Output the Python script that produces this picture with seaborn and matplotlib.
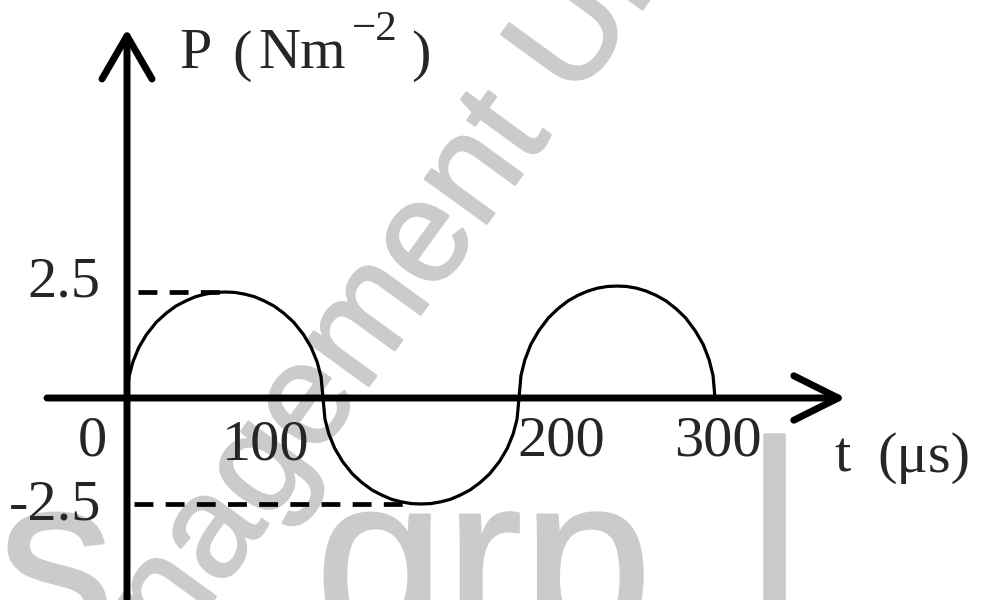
import matplotlib
matplotlib.use("Agg")
import matplotlib.pyplot as plt
import matplotlib.patheffects as pe
import seaborn as sns

# ---- data -------------------------------------------------------------
# sample times inside one half-cycle (microseconds from its start)
half_t = [0, 1, 3, 6, 10, 15, 20, 25, 30, 35, 40, 45, 50,
          55, 60, 65, 70, 75, 80, 85, 90, 94, 97, 99, 100]
half_starts = [0, 100, 200]
# pressure readings along each half-cycle (N m^-2)
p_first = [0, 0.50, 0.85, 1.19, 1.50, 1.79, 2.00, 2.17, 2.29, 2.39, 2.45, 2.49, 2.50,
           2.49, 2.45, 2.39, 2.29, 2.17, 2.00, 1.79, 1.50, 1.19, 0.85, 0.50, 0]
p_second = [0, -0.50, -0.85, -1.19, -1.50, -1.79, -2.00, -2.17, -2.29, -2.39, -2.45, -2.49, -2.50,
            -2.49, -2.45, -2.39, -2.29, -2.17, -2.00, -1.79, -1.50, -1.19, -0.85, -0.50, 0]
p_third = [0, 0.53, 0.90, 1.26, 1.58, 1.89, 2.11, 2.29, 2.42, 2.52, 2.59, 2.63, 2.64,
           2.63, 2.59, 2.52, 2.42, 2.29, 2.11, 1.89, 1.58, 1.26, 0.90, 0.53, 0]

amp_levels = [2.5, -2.5]
amp_labels = ["2.5", "-2.5"]
t_labels = ["0", "100", "200", "300"]

# ---- canvas geometry (pixels) ------------------------------------------
W, H = 1002, 600
X0, SX = 127, 1.96      # pixel column of t = 0, pixels per microsecond
Y0, SY = 398, 42.4      # pixel row of P = 0, pixels per N m^-2


def to_t(px):
    return (px - X0) / SX


def to_p(py):
    return (Y0 - py) / SY


def fx(px):
    return px / W


def fy(py):
    return 1 - py / H


# assemble the curve
t_vals, p_vals = [], []
for k, (start, arc) in enumerate(zip(half_starts, [p_first, p_second, p_third])):
    for j, (dt, p) in enumerate(zip(half_t, arc)):
        if k > 0 and j == 0:
            continue
        t_vals.append(start + dt)
        p_vals.append(p)

sns.set_theme(style="white")
plt.rcParams["font.family"] = ["Liberation Serif", "DejaVu Serif"]

fig = plt.figure(figsize=(W / 100, H / 100), dpi=100)
fig.patch.set_facecolor("white")
ax = fig.add_axes([0, 0, 1, 1])
ax.patch.set_visible(False)
ax.set_xlim(to_t(0), to_t(W))
ax.set_ylim(to_p(H), to_p(0))
ax.axis("off")

# faint watermark lettering, underneath everything else
wm_col = "#cbcbcb"
wm = dict(color=wm_col, family="Liberation Sans", zorder=-5,
          path_effects=[pe.withStroke(linewidth=1.8, foreground=wm_col)])
fig.text(fx(174), fy(654), "nagement Un", rotation=54.0, rotation_mode="anchor",
         ha="left", va="baseline", fontsize=104, **wm)
fig.text(fx(315), fy(638), "grp", ha="left", va="baseline", fontsize=168, **wm)
fig.text(fx(114), fy(638), "rs", ha="right", va="baseline", fontsize=168, **wm)
fig.text(fx(748), fy(603), "l", ha="left", va="baseline", fontsize=168, **wm)

# pressure curve
sns.lineplot(x=t_vals, y=p_vals, ax=ax, color="black", linewidth=2.3,
             sort=False, estimator=None, legend=False)

# dashed amplitude guides
guide_kw = dict(color="black", linewidth=3.4, dashes=(4.0, 2.6))
ax.plot([to_t(138), to_t(222)], [amp_levels[0]] * 2, **guide_kw)
ax.plot([to_t(134), to_t(404)], [amp_levels[1]] * 2, **guide_kw)

# axes with open arrow heads
arrow_kw = dict(color="black", lw=5, shrinkA=0, shrinkB=0, mutation_scale=20,
                capstyle="round", joinstyle="round")
ax.annotate("", xy=(to_t(846), 0), xytext=(to_t(47), 0), annotation_clip=False,
            arrowprops=dict(arrowstyle="->,head_length=1.6,head_width=0.8", **arrow_kw))
ax.annotate("", xy=(0, to_p(29)), xytext=(0, to_p(H + 5)), annotation_clip=False,
            arrowprops=dict(arrowstyle="->,head_length=1.55,head_width=0.9", **arrow_kw))

# labels
fs = 42
fig.text(fx(100), fy(296), amp_labels[0], ha="right", va="baseline", fontsize=fs)
fig.text(fx(101), fy(519), amp_labels[1], ha="right", va="baseline", fontsize=fs)
for lab, (cx, base) in zip(t_labels, [(92, 455), (266, 459), (561, 455), (718, 455)]):
    fig.text(fx(cx), fy(base), lab, ha="center", va="baseline", fontsize=fs)

fig.text(fx(179), fy(68), "P", ha="left", va="baseline", fontsize=fs)
fig.text(fx(232), fy(70), "(", ha="left", va="baseline", fontsize=fs)
fig.text(fx(258), fy(68), "Nm", ha="left", va="baseline", fontsize=fs)
fig.text(fx(352), fy(40), "\u22122", ha="left", va="baseline", fontsize=31)
fig.text(fx(411), fy(70), ")", ha="left", va="baseline", fontsize=fs)
fig.text(fx(834), fy(472), "t", ha="left", va="baseline", fontsize=fs)
fig.text(fx(877), fy(472), "(\u03bcs)", ha="left", va="baseline", fontsize=fs)

fig.savefig("out.png", dpi=100, facecolor="white")
